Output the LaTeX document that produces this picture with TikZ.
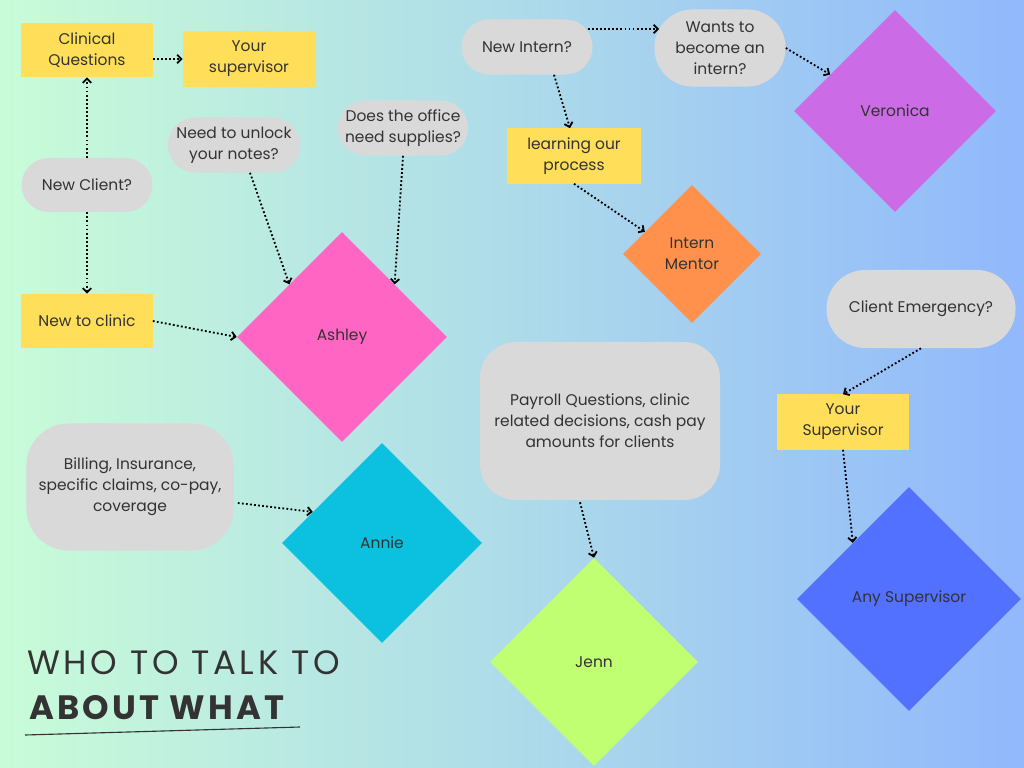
\documentclass[tikz,border=0pt]{standalone}
\usepackage{fontspec}
\setmainfont{Poppins}
\usepackage{xcolor}
\usetikzlibrary{shapes.geometric, arrows.meta, calc}
\definecolor{bgleft}{RGB}{200,252,216}
\definecolor{bgmid}{RGB}{176,222,232}
\definecolor{bgright}{RGB}{145,184,252}
\definecolor{boxyellow}{RGB}{255,222,89}
\definecolor{pillgray}{RGB}{217,217,217}
\definecolor{inkgray}{RGB}{51,51,51}
\definecolor{ashleypink}{RGB}{255,102,196}
\definecolor{anniecyan}{RGB}{12,192,223}
\definecolor{veronicapurple}{RGB}{203,108,230}
\definecolor{mentororange}{RGB}{255,145,77}
\definecolor{anyblue}{RGB}{82,113,255}
\definecolor{jenngreen}{RGB}{193,255,114}
\pgfdeclarehorizontalshading{bgshade}{100bp}{color(0bp)=(bgleft); color(25bp)=(bgleft); color(48bp)=(bgmid); color(75bp)=(bgright); color(100bp)=(bgright)}
\tikzset{
    every node/.style={text=inkgray, font=\fontsize{11}{15}\selectfont, align=center},
    ybox/.style={fill=boxyellow, minimum width=3.3cm, minimum height=1.375cm, inner sep=2pt},
    qpill/.style={fill=pillgray, rounded corners=0.68cm, minimum width=3.275cm, minimum height=1.375cm, inner sep=2pt},
    person/.style={diamond, shape aspect=1, inner sep=0pt, fill=#1},
    link/.style={line width=1.3pt, dash pattern=on 1.3pt off 1.6pt, -{Straight Barb[length=3pt, width=6pt]}}
}

\begin{document}
\begin{tikzpicture}[x=0.025cm, y=-0.025cm]
    % background
    \shade[shading=bgshade] (0,0) rectangle (1024,768);
    \useasboundingbox (0,0) rectangle (1024,768);

    % left column
    \node[ybox, minimum width=3.275cm, minimum height=1.35cm] (clinical) at (87,50) {Clinical\\Questions};
    \node[ybox] (yoursup) at (249,59) {Your\\supervisor};
    \node[qpill, minimum height=1.35cm] (newclient) at (87,185) {New Client?};
    \node[ybox, minimum width=3.275cm, minimum height=1.35cm] (newclinic) at (87,321) {New to clinic};
    \node[qpill, minimum width=3.3cm] (unlock) at (234,145) {Need to unlock\\your notes?};
    \node[qpill, minimum width=3.25cm] (office) at (403,128) {Does the office\\need supplies?};
    \node[person=ashleypink, minimum size=5.25cm] (ashley) at (342,337) {Ashley};
    \node[qpill, rounded corners=1.05cm, minimum width=5.175cm, minimum height=3.175cm] (billing) at (130,487) {Billing, Insurance,\\specific claims, co-pay,\\coverage};
    \node[person=anniecyan, minimum size=5cm] (annie) at (382,543) {Annie};

    % interns
    \node[qpill] (intern) at (527,47) {New Intern?};
    \node[qpill, rounded corners=0.95cm, minimum height=1.925cm] (wants) at (720,48) {Wants to\\become an\\intern?};
    \node[person=veronicapurple, minimum size=5.05cm] (veronica) at (895,111) {Veronica};
    \node[ybox, minimum width=3.35cm] (learning) at (574,156) {learning our\\process};
    \node[person=mentororange, minimum size=3.45cm] (mentor) at (692,254) {Intern\\Mentor};

    % right column
    \node[qpill, rounded corners=0.97cm, minimum width=4.725cm, minimum height=1.95cm] (emergency) at (921,309) {Client Emergency?};
    \node[ybox] (yoursup2) at (843,422) {Your\\Supervisor};
    \node[person=anyblue, minimum size=5.6cm] (anysup) at (909,599) {Any Supervisor};

    % payroll
    \node[qpill, rounded corners=0.9cm, minimum width=6cm, minimum height=3.95cm] (payroll) at (600,421) {Payroll Questions, clinic\\related decisions, cash pay\\amounts for clients};
    \node[person=jenngreen, minimum size=5.2cm] (jenn) at (594,662) {Jenn};

    % connectors
    \draw[link] (newclient.north) -- (clinical.south);
    \draw[link] (newclient.south) -- (newclinic.north);
    \draw[link] (clinical.east |- yoursup.west) -- (yoursup.west);
    \draw[link] (newclinic.east) -- (ashley.west);
    \draw[link] ($(unlock.south)+(16,0)$) -- (ashley.north west);
    \draw[link] (office.south) -- (ashley.north east);
    \draw[link] ($(billing.east)+(4,16)$) -- ($(annie.west)!0.31!(annie.north)$);
    \draw[link] ($(intern.south)+(27,0)$) -- ($(learning.north)+(-4,0)$);
    \draw[link] ($(intern.east)+(-5,-18)$) -- ($(wants.west)+(5,-19)$);
    \draw[link] (wants.east) -- ($(veronica.west)!0.36!(veronica.north)$);
    \draw[link] (learning.south) -- ($(mentor.west)!0.32!(mentor.north)$);
    \draw[link] (emergency.south) -- (yoursup2.north);
    \draw[link] (yoursup2.south) -- (anysup.north west);
    \draw[link] ($(payroll.south)+(-20,2)$) -- (jenn.north);

    % title
    \node[anchor=base west, inner sep=0pt, font=\fontsize{24}{28}\selectfont\addfontfeatures{LetterSpace=11}] (titletop) at (27,674) {WHO TO TALK TO};
    \node[anchor=base west, inner sep=0pt, font=\fontsize{24}{28}\selectfont\bfseries\addfontfeatures{LetterSpace=9.5}] (titlebottom) at (29,719) {ABOUT WHAT};
    \draw[inkgray, line width=0.8pt] (25,735) -- (300,727);
\end{tikzpicture}
\end{document}
